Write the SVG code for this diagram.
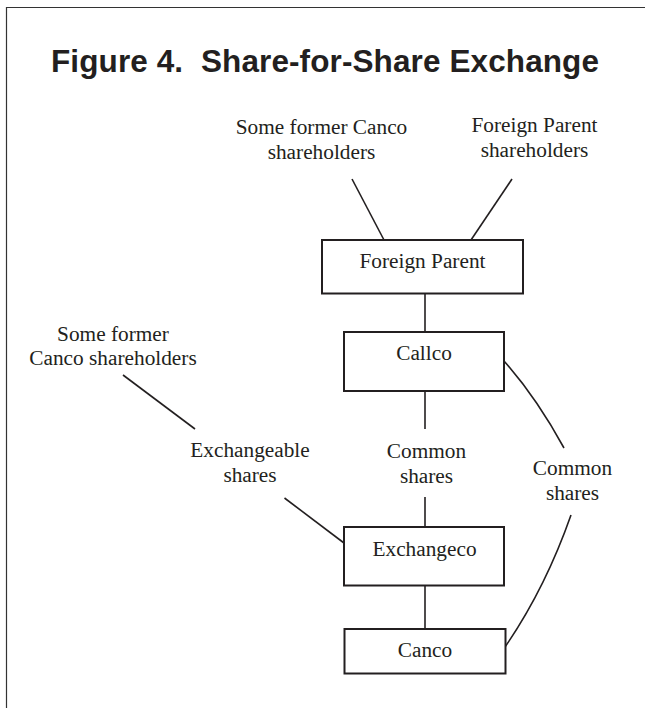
<svg xmlns="http://www.w3.org/2000/svg" width="645" height="708" viewBox="0 0 645 708">
<style>
.frame{fill:none;stroke:#333;stroke-width:1.2}
.title{font-family:"Liberation Sans",Arial,sans-serif;font-weight:bold;font-size:31.5px;fill:#231f20;white-space:pre}
.lbl{font-family:"Liberation Serif","Times New Roman",serif;font-size:21.3px;fill:#231f20;text-anchor:middle}
.box{fill:#fff;stroke:#231f20;stroke-width:2}
.conn{fill:none;stroke:#231f20;stroke-width:1.6}
</style>
<rect width="645" height="708" fill="#fff"/>
<g id="frame">
<path class="frame" d="M6.5,708 V7.5 H645"/>
</g>
<text class="title" x="51" y="72" textLength="548" lengthAdjust="spacing" xml:space="preserve">Figure 4.  Share-for-Share Exchange</text>
<g id="connectors">
<line class="conn" x1="352" y1="179" x2="384" y2="240"/>
<line class="conn" x1="512" y1="179" x2="471" y2="240"/>
<line class="conn" x1="425" y1="293" x2="425" y2="332"/>
<line class="conn" x1="425" y1="391" x2="425" y2="429"/>
<line class="conn" x1="425" y1="497" x2="425" y2="527"/>
<line class="conn" x1="425" y1="585" x2="425" y2="629"/>
<line class="conn" x1="123" y1="375" x2="195" y2="429"/>
<line class="conn" x1="284.5" y1="498" x2="344" y2="543"/>
<path class="conn" d="M504,361 Q536,397 564,448"/>
<path class="conn" d="M571,515 Q545,589 505,647"/>
</g>
<g id="label-former-top">
<text class="lbl" x="321.5" y="134">Some former Canco</text>
<text class="lbl" x="321.5" y="159">shareholders</text>
</g>
<g id="label-fp-shareholders">
<text class="lbl" x="534.5" y="132">Foreign Parent</text>
<text class="lbl" x="534.5" y="157">shareholders</text>
</g>
<g id="node-foreign-parent">
<rect class="box" x="322" y="240" width="201" height="53.5"/>
<text class="lbl" x="422.5" y="268">Foreign Parent</text>
</g>
<g id="node-callco">
<rect class="box" x="344" y="332" width="160" height="59"/>
<text class="lbl" x="424" y="360">Callco</text>
</g>
<g id="label-former-left">
<text class="lbl" x="113" y="341">Some former</text>
<text class="lbl" x="113" y="365">Canco shareholders</text>
</g>
<g id="label-exchangeable">
<text class="lbl" x="250" y="457">Exchangeable</text>
<text class="lbl" x="250" y="482">shares</text>
</g>
<g id="label-common-center">
<text class="lbl" x="426.5" y="457.5">Common</text>
<text class="lbl" x="426.5" y="482.5">shares</text>
</g>
<g id="label-common-right">
<text class="lbl" x="572.5" y="475">Common</text>
<text class="lbl" x="572.5" y="499.5">shares</text>
</g>
<g id="node-exchangeco">
<rect class="box" x="344" y="527" width="160" height="58.5"/>
<text class="lbl" x="424.5" y="556">Exchangeco</text>
</g>
<g id="node-canco">
<rect class="box" x="344.5" y="629" width="161" height="44.5"/>
<text class="lbl" x="425" y="657">Canco</text>
</g>
</svg>
